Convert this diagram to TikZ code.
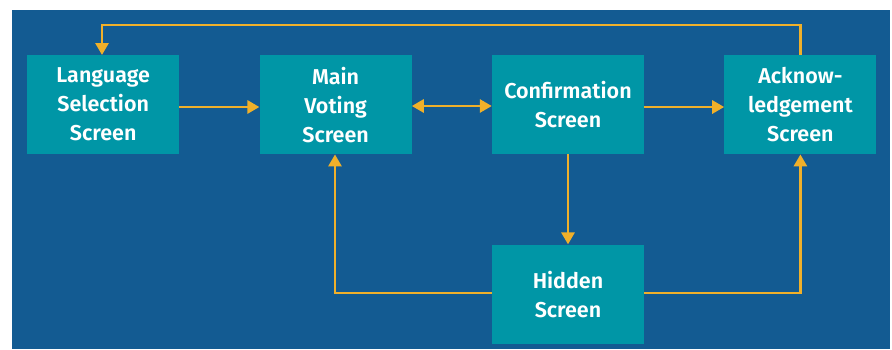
\documentclass[tikz,border=0pt]{standalone}
\usepackage{fontspec}
\setmainfont{Fira Sans}[BoldFont={Fira Sans SemiBold}]
\usetikzlibrary{arrows.meta,positioning,backgrounds}
\definecolor{screenbg}{RGB}{19,91,146}
\definecolor{screenbox}{RGB}{0,150,166}
\definecolor{flowline}{RGB}{240,176,42}

\begin{document}
\begin{tikzpicture}[
    x=1pt, y=-1pt,
    node distance=80pt,
    screen/.style={rectangle, fill=screenbox, text=white, minimum width=152pt,
                   minimum height=99pt, align=center, inner sep=0pt,
                   font=\fontsize{21.5}{29}\selectfont\bfseries},
    flow/.style={-{Triangle[length=12pt,width=13pt]}, line width=2.8pt, flowline}
]

\useasboundingbox (0,0) rectangle (892,349);
\fill[white] (0,0) rectangle (892,349);
\fill[screenbg] (12,10) rectangle (890,349);

\node[screen, anchor=north west] (lang) at (27,55) {Language\\Selection\\Screen};
\node[screen, right=of lang] (main) {Main\\Voting\\Screen};
\node[screen, right=of main] (conf) {Confirmation\\Screen};
\node[screen, right=of conf] (ack) {Acknow-\\ledgement\\Screen};
\node[screen, below=90pt of conf] (hidden) {Hidden\\Screen};

\coordinate (top) at (0,25);

\draw[flow] (lang.east |- 0,107) -- (main.west |- 0,107);
\draw[flow, {Triangle[length=12pt,width=13pt]}-{Triangle[length=12pt,width=13pt]}] (main.east |- 0,106) -- (conf.west |- 0,106);
\draw[flow] (conf.east |- 0,107) -- (ack.west |- 0,107);
\draw[flow] (conf) -- (hidden);
\draw[flow] (hidden.west |- 0,293) -| (main.south -| 335,0);
\draw[flow] (hidden.east |- 0,293) -| (ack.south);
\draw[flow] (ack.north) -- (ack.north |- top) -| (lang.north -| 102,0);

\end{tikzpicture}
\end{document}
